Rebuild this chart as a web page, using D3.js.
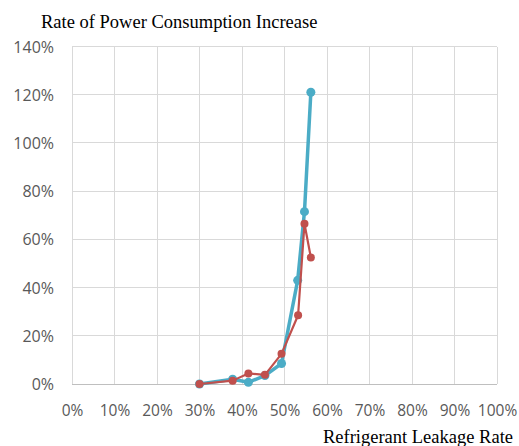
<!DOCTYPE html>
<html>
<head>
<meta charset="utf-8">
<script src="https://cdn.jsdelivr.net/npm/d3@7"></script>
<style>
  html, body { margin: 0; padding: 0; background: #fff; }
  svg { display: block; }
</style>
</head>
<body>
<svg id="chart" width="519" height="446"></svg>
<script>
// Refrigerant leakage rate (fraction) vs. rate of power consumption increase (fraction)
const leakageBlue = [0.300, 0.378, 0.415, 0.454, 0.493, 0.531, 0.547, 0.562];
const increaseBlue = [0.000, 0.020, 0.007, 0.035, 0.085, 0.430, 0.715, 1.210];
const leakageRed = [0.300, 0.378, 0.415, 0.454, 0.493, 0.532, 0.547, 0.562];
const increaseRed = [0.000, 0.014, 0.044, 0.038, 0.125, 0.285, 0.665, 0.525];
const xTicks = [0, 0.1, 0.2, 0.3, 0.4, 0.5, 0.6, 0.7, 0.8, 0.9, 1.0];
const yTicks = [0, 0.2, 0.4, 0.6, 0.8, 1.0, 1.2, 1.4];

const svg = d3.select("#chart");
const plotLeft = 72, plotRight = 497, plotTop = 46.5, plotBottom = 384;

const x = d3.scaleLinear().domain([0, 1]).range([plotLeft, plotRight]);
const y = d3.scaleLinear().domain([0, 1.4]).range([plotBottom, plotTop]);
const pct = d3.format(".0%");

// Gridlines
svg.append("g")
  .selectAll("line")
  .data(xTicks)
  .join("line")
  .attr("x1", d => x(d)).attr("x2", d => x(d))
  .attr("y1", plotTop).attr("y2", plotBottom)
  .attr("stroke", "#d9d9d9").attr("stroke-width", 1)
  .attr("shape-rendering", "crispEdges");

svg.append("g")
  .selectAll("line")
  .data(yTicks)
  .join("line")
  .attr("x1", plotLeft).attr("x2", plotRight)
  .attr("y1", d => y(d)).attr("y2", d => y(d))
  .attr("stroke", d => d === 0 ? "#bfbfbf" : "#d9d9d9").attr("stroke-width", 1)
  .attr("shape-rendering", "crispEdges");

// Axes (labels only)
const xAxis = d3.axisBottom(x).tickValues(xTicks).tickFormat(pct).tickSize(0).tickPadding(0);
const yAxis = d3.axisLeft(y).tickValues(yTicks).tickFormat(pct).tickSize(0).tickPadding(0);

const gx = svg.append("g").attr("transform", `translate(0,${plotBottom})`).call(xAxis);
gx.select(".domain").remove();
gx.selectAll("text")
  .attr("dy", null).attr("y", 32)
  .attr("font-family", "'Open Sans', 'Liberation Sans', sans-serif")
  .attr("font-size", 15.5).attr("fill", "#595959");

const gy = svg.append("g").attr("transform", `translate(${plotLeft - 18},0)`).call(yAxis);
gy.select(".domain").remove();
gy.selectAll("text")
  .attr("dy", "0.35em")
  .attr("font-family", "'Open Sans', 'Liberation Sans', sans-serif")
  .attr("font-size", 16).attr("fill", "#595959");

// Titles
svg.append("text")
  .attr("x", 41).attr("y", 28)
  .attr("font-family", "'Liberation Serif', 'Times New Roman', serif")
  .attr("font-size", 18.5).attr("fill", "#000")
  .text("Rate of Power Consumption Increase");

svg.append("text")
  .attr("x", 513).attr("y", 443)
  .attr("text-anchor", "end")
  .attr("font-family", "'Liberation Serif', 'Times New Roman', serif")
  .attr("font-size", 18.5).attr("fill", "#000")
  .text("Refrigerant Leakage Rate");

// Series
const series = [
  { name: "blue", xs: leakageBlue, ys: increaseBlue, color: "#4bacc6", width: 3.5, r: 4.5 },
  { name: "red", xs: leakageRed, ys: increaseRed, color: "#c0504d", width: 2.2, r: 4 }
];

const line = d3.line().x(d => x(d[0])).y(d => y(d[1]));

series.forEach(s => {
  const pts = s.xs.map((v, i) => [v, s.ys[i]]);
  const g = svg.append("g");
  g.append("path")
    .datum(pts)
    .attr("d", line)
    .attr("fill", "none")
    .attr("stroke", s.color)
    .attr("stroke-width", s.width)
    .attr("stroke-linejoin", "round");
  g.selectAll("circle")
    .data(pts)
    .join("circle")
    .attr("cx", d => x(d[0]))
    .attr("cy", d => y(d[1]))
    .attr("r", s.r)
    .attr("fill", s.color);
});
</script>
</body>
</html>
